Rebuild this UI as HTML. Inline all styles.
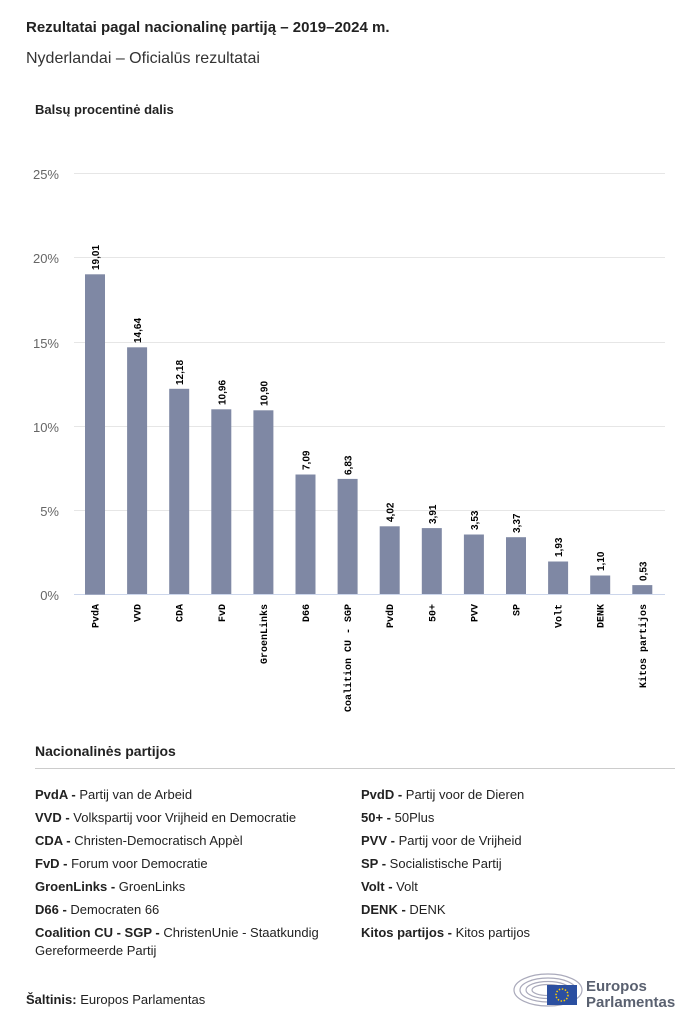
<!DOCTYPE html>
<html><head><meta charset="utf-8"><style>
body{margin:0;width:700px;height:1026px;background:#fff;font-family:"Liberation Sans",sans-serif;color:#222;position:relative;overflow:hidden}
.t{position:absolute;left:26px;top:19px;font-size:15px;font-weight:bold}
.s{position:absolute;left:26px;top:50px;font-size:16px;color:#333}
.y{position:absolute;left:35px;top:102px;font-size:13px;font-weight:bold}
.lg{position:absolute;font-size:13px;color:#222;line-height:23px}
.lg b{font-weight:bold}
</style></head><body>
<div class="t">Rezultatai pagal nacionalinę partiją – 2019–2024 m.</div>
<div class="s">Nyderlandai – Oficialūs rezultatai</div>
<div class="y">Balsų procentinė dalis</div>
<svg width="700" height="1026" style="position:absolute;left:0;top:0" font-family="Liberation Sans, sans-serif">
<g stroke="#e6e6e6" stroke-width="1">
<line x1="74" x2="665" y1="173.5" y2="173.5"/><line x1="74" x2="665" y1="257.5" y2="257.5"/><line x1="74" x2="665" y1="342.5" y2="342.5"/><line x1="74" x2="665" y1="426.5" y2="426.5"/><line x1="74" x2="665" y1="510.5" y2="510.5"/>
</g>
<line x1="74" x2="665" y1="594.5" y2="594.5" stroke="#ccd6eb"/>
<g font-size="13" fill="#666" text-anchor="end">
<text x="59" y="179">25%</text><text x="59" y="263">20%</text><text x="59" y="348">15%</text><text x="59" y="432">10%</text><text x="59" y="516">5%</text><text x="59" y="600">0%</text>
</g>
<g fill="#7f88a4">
<rect x="85" y="274.3" width="20" height="320.3"/>
<rect x="127.1" y="347.3" width="20" height="246.7"/>
<rect x="169.2" y="388.8" width="20" height="205.2"/>
<rect x="211.3" y="409.3" width="20" height="184.7"/>
<rect x="253.4" y="410.3" width="20" height="183.7"/>
<rect x="295.5" y="474.5" width="20" height="119.5"/>
<rect x="337.6" y="478.9" width="20" height="115.1"/>
<rect x="379.7" y="526.3" width="20" height="67.7"/>
<rect x="421.8" y="528.1" width="20" height="65.9"/>
<rect x="463.9" y="534.5" width="20" height="59.5"/>
<rect x="506" y="537.2" width="20" height="56.8"/>
<rect x="548.1" y="561.5" width="20" height="32.5"/>
<rect x="590.2" y="575.5" width="20" height="18.5"/>
<rect x="632.3" y="585.1" width="20" height="8.9"/>
</g>
<g font-size="10" font-weight="bold" fill="#000">
<text transform="translate(99,270) rotate(-90)">19,01</text>
<text transform="translate(141.1,343) rotate(-90)">14,64</text>
<text transform="translate(183.2,385) rotate(-90)">12,18</text>
<text transform="translate(225.3,405) rotate(-90)">10,96</text>
<text transform="translate(267.4,406) rotate(-90)">10,90</text>
<text transform="translate(309.5,470) rotate(-90)">7,09</text>
<text transform="translate(351.6,475) rotate(-90)">6,83</text>
<text transform="translate(393.7,522) rotate(-90)">4,02</text>
<text transform="translate(435.8,524) rotate(-90)">3,91</text>
<text transform="translate(477.9,530) rotate(-90)">3,53</text>
<text transform="translate(520,533) rotate(-90)">3,37</text>
<text transform="translate(562.1,557) rotate(-90)">1,93</text>
<text transform="translate(604.2,571) rotate(-90)">1,10</text>
<text transform="translate(646.3,581) rotate(-90)">0,53</text>
</g>
<g font-size="10" font-weight="bold" font-family="Liberation Mono, monospace" fill="#000" text-anchor="end">
<text transform="translate(98.5,604) rotate(-90)">PvdA</text>
<text transform="translate(140.6,604) rotate(-90)">VVD</text>
<text transform="translate(182.7,604) rotate(-90)">CDA</text>
<text transform="translate(224.8,604) rotate(-90)">FvD</text>
<text transform="translate(266.9,604) rotate(-90)">GroenLinks</text>
<text transform="translate(309,604) rotate(-90)">D66</text>
<text transform="translate(351.1,604) rotate(-90)">Coalition CU - SGP</text>
<text transform="translate(393.2,604) rotate(-90)">PvdD</text>
<text transform="translate(435.3,604) rotate(-90)">50+</text>
<text transform="translate(477.4,604) rotate(-90)">PVV</text>
<text transform="translate(519.5,604) rotate(-90)">SP</text>
<text transform="translate(561.6,604) rotate(-90)">Volt</text>
<text transform="translate(603.7,604) rotate(-90)">DENK</text>
<text transform="translate(645.8,604) rotate(-90)">Kitos partijos</text>
</g>
<line x1="35" x2="675" y1="768.5" y2="768.5" stroke="#ccc"/>
<g fill="none" stroke="#aab" stroke-width="1.2">
<ellipse cx="548" cy="990" rx="34" ry="16"/><ellipse cx="548" cy="990" rx="28" ry="12"/><ellipse cx="548" cy="990" rx="22" ry="8.5"/><ellipse cx="548" cy="990" rx="16" ry="5.5"/>
</g>
<rect x="547" y="985" width="30" height="20" fill="#2b4fa0"/>
<circle cx="562" cy="995" r="6" fill="none" stroke="#fc0" stroke-width="1.5" stroke-dasharray="1.5 1.6"/>
<text x="586" y="991" font-size="15" font-weight="bold" fill="#5a6170">Europos</text>
<text x="586" y="1007" font-size="15" font-weight="bold" fill="#5a6170">Parlamentas</text>
</svg>
<div class="lg" style="left:35px;top:740px;font-weight:bold;font-size:14px">Nacionalinės partijos</div>
<div class="lg" style="left:35px;top:783px">
<b>PvdA -</b> Partij van de Arbeid<br><b>VVD -</b> Volkspartij voor Vrijheid en Democratie<br><b>CDA -</b> Christen-Democratisch Appèl<br><b>FvD -</b> Forum voor Democratie<br><b>GroenLinks -</b> GroenLinks<br><b>D66 -</b> Democraten 66<br><b>Coalition CU - SGP -</b> ChristenUnie - Staatkundig<br><span style="position:relative;top:-5px">Gereformeerde Partij</span>
</div>
<div class="lg" style="left:361px;top:783px">
<b>PvdD -</b> Partij voor de Dieren<br><b>50+ -</b> 50Plus<br><b>PVV -</b> Partij voor de Vrijheid<br><b>SP -</b> Socialistische Partij<br><b>Volt -</b> Volt<br><b>DENK -</b> DENK<br><b>Kitos partijos -</b> Kitos partijos
</div>
<div class="lg" style="left:26px;top:988px"><b>Šaltinis:</b> Europos Parlamentas</div>
</body></html>
